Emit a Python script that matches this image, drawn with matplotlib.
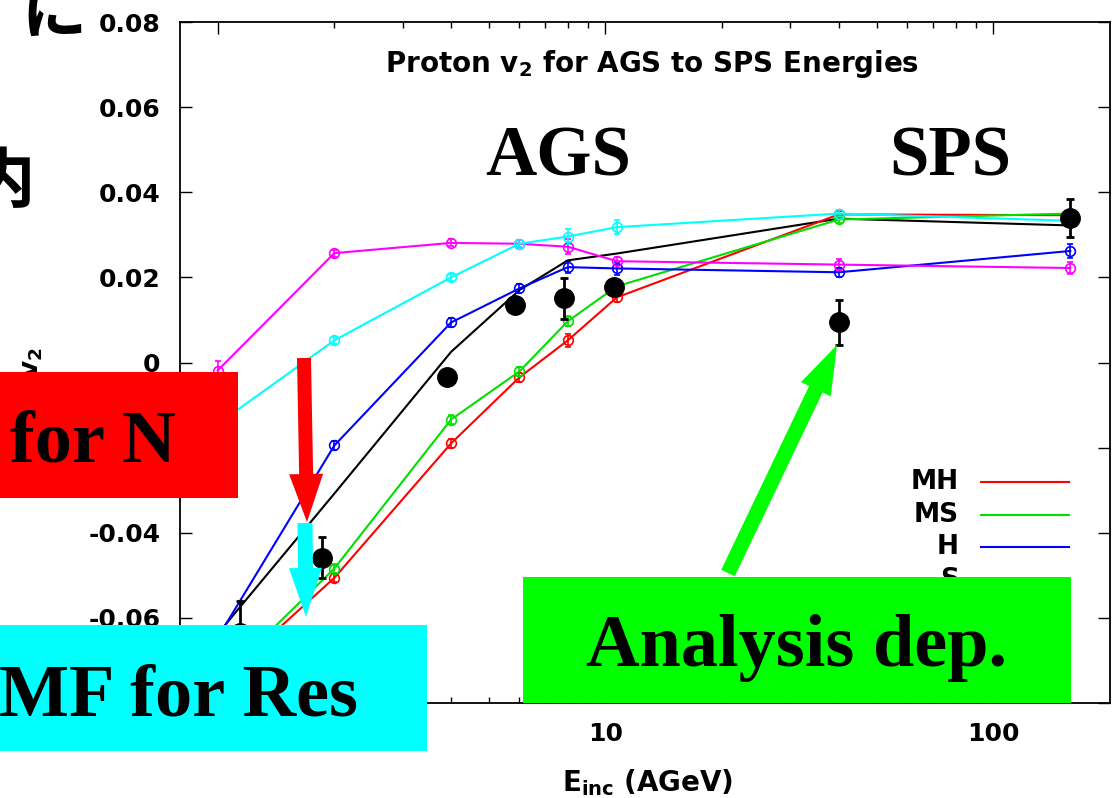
import numpy as np
import matplotlib
matplotlib.use('Agg')
import matplotlib.pyplot as plt
from matplotlib.patches import Rectangle, FancyArrow
from matplotlib.ticker import FixedLocator, FuncFormatter, NullFormatter

plt.rcParams['font.family'] = 'DejaVu Sans'
plt.rcParams['font.weight'] = 'bold'
plt.rcParams['mathtext.fontset'] = 'dejavusans'

# beam energies of the model runs (AGeV)
e_sim = [1, 2, 4, 6, 8, 10.7, 40, 158]

v2_mh = [-0.0755, -0.0506, -0.0190, -0.0035, 0.0052, 0.0153, 0.0348, 0.0346]
err_mh = [0.0010, 0.0010, 0.0010, 0.0010, 0.0015, 0.0012, 0.0008, 0.0008]
v2_ms = [-0.0752, -0.0484, -0.0134, -0.0021, 0.0097, 0.0179, 0.0336, 0.0350]
err_ms = [0.0010, 0.0010, 0.0010, 0.0010, 0.0012, 0.0010, 0.0008, 0.0008]
v2_h = [-0.0647, -0.0195, 0.0094, 0.0174, 0.0224, 0.0221, 0.0212, 0.0262]
err_h = [0.0010, 0.0010, 0.0010, 0.0010, 0.0014, 0.0016, 0.0010, 0.0017]
v2_s = [-0.0019, 0.0257, 0.0281, 0.0279, 0.0272, 0.0238, 0.0230, 0.0222]
err_s = [0.0022, 0.0008, 0.0008, 0.0008, 0.0017, 0.0010, 0.0012, 0.0014]
v2_c = [-0.0145, 0.0052, 0.0200, 0.0279, 0.0296, 0.0318, 0.0350, 0.0333]
err_c = [0.0010, 0.0008, 0.0008, 0.0008, 0.0018, 0.0017, 0.0008, 0.0010]
v2_line = [-0.0638, -0.0308, 0.0025, 0.0170, 0.0240, 0.0256, 0.0338, 0.0322]

# measured points
e_exp = [1.14, 1.86, 3.9, 5.85, 7.8, 10.5, 40, 158]
v2_exp = [-0.0635, -0.0459, -0.0034, 0.0136, 0.0151, 0.0177, 0.0094, 0.0339]
err_exp = [0.0075, 0.0048, 0.0012, 0.0015, 0.0048, 0.0012, 0.0053, 0.0045]

models = [
    ('MH', v2_mh, err_mh, '#ff0000'),
    ('MS', v2_ms, err_ms, '#00e000'),
    ('H', v2_h, err_h, '#0000ff'),
    ('S', v2_s, err_s, '#ff00ff'),
    ('', v2_c, err_c, '#00ffff'),
]

W, H = 1113, 798
fig = plt.figure(figsize=(W / 100, H / 100), dpi=100)
ax = fig.add_axes([180 / W, 1 - 703 / H, 930 / W, 681 / H])

for name, v2, err, col in models:
    ax.errorbar(e_sim, v2, yerr=err, color=col, lw=1.5, marker='o', ms=7,
                mfc='none', mew=1.2, capsize=2.5, elinewidth=1.2)
ax.plot(e_sim, v2_line, color='black', lw=1.5)
ax.errorbar(e_exp, v2_exp, yerr=err_exp, fmt='o', color='black', ms=14,
            capsize=3, elinewidth=2, capthick=2, zorder=5)

ax.set_xscale('log')
ax.set_xlim(0.8, 200)
ax.set_ylim(-0.08, 0.08)
ax.xaxis.set_major_locator(FixedLocator([1, 10, 100]))
ax.xaxis.set_major_formatter(FuncFormatter(lambda v, p: '%g' % v))
ax.xaxis.set_minor_locator(FixedLocator(
    [m * d for d in (1, 10, 100) for m in range(2, 10) if m * d < 200]))
ax.xaxis.set_minor_formatter(NullFormatter())
ax.set_yticks(np.arange(-0.08, 0.0801, 0.02))
ax.yaxis.set_major_formatter(FuncFormatter(
    lambda v, p: '0' if abs(v) < 1e-9 else '%.2f' % v))
ax.tick_params(which='both', direction='in', top=True, right=True,
               labelsize=18, pad=14, width=1)
ax.tick_params(which='major', length=8.5)
ax.tick_params(which='minor', length=4.3)
for s in ax.spines.values():
    s.set_linewidth(1.3)

ax.set_title(r'Proton $\mathbf{v_2}$ for AGS to SPS Energies', fontsize=20,
             fontweight='bold', x=0.508, y=0.926, pad=0)
ax.set_xlabel(r'$\mathbf{E_{inc}}$ (AGeV)', fontsize=20, fontweight='bold')
ax.xaxis.set_label_coords(0.503, -0.094)
ax.set_ylabel(r'$\mathbf{v_2}$', fontsize=19)
ax.yaxis.set_label_coords(-0.145, 0.5)

# key, text on the left of each sample line
for i, (name, v2, err, col) in enumerate(models[:4]):
    yk = 0.3245 - i * 0.0478
    ax.text(0.8376, yk, name, transform=ax.transAxes, ha='right',
            va='center', fontsize=19, fontweight='bold')
    ax.plot([0.8613, 0.9559], [yk, yk], transform=ax.transAxes, color=col,
            lw=1.5)

# annotations drawn over the chart, in pixel units
ov = fig.add_axes([0, 0, 1, 1], zorder=10)
ov.set_xlim(0, W)
ov.set_ylim(H, 0)
ov.axis('off')

serif = dict(family='Liberation Serif', fontweight='bold', color='black')
ov.text(558, 175, 'AGS', ha='center', va='baseline', fontsize=51, **serif)
ov.text(950, 175, 'SPS', ha='center', va='baseline', fontsize=51, **serif)

jp = dict(family=['Noto Sans CJK JP', 'DejaVu Sans'], fontweight='bold',
          fontsize=47, ha='center', va='center')
ov.text(54, 13, 'に', **jp)
ov.text(2, 183, '内', **jp)

ov.add_patch(Rectangle((0, 372), 238, 126, color='#ff0000', lw=0))
ov.text(10, 462, 'for N', ha='left', va='baseline', fontsize=53.5, **serif)
ov.add_patch(Rectangle((0, 625), 427, 126, color='#00ffff', lw=0))
ov.text(358, 715, 'MF for Res', ha='right', va='baseline', fontsize=53.5,
        **serif)
ov.add_patch(Rectangle((523, 577), 548, 126, color='#00ff00', lw=0))
ov.text(797, 666, 'Analysis dep.', ha='center', va='baseline', fontsize=53.5,
        **serif)

ov.add_patch(FancyArrow(304, 358, 3, 164, width=14, head_width=34,
                        head_length=48, length_includes_head=True,
                        color='#ff0000', lw=0))
ov.add_patch(FancyArrow(305, 523, 1, 94, width=15, head_width=33,
                        head_length=49, length_includes_head=True,
                        color='#00ffff', lw=0))
ov.add_patch(FancyArrow(728, 573, 109, -228, width=15, head_width=33,
                        head_length=49, length_includes_head=True,
                        color='#00ff00', lw=0))

fig.savefig('out.png', dpi=100)
